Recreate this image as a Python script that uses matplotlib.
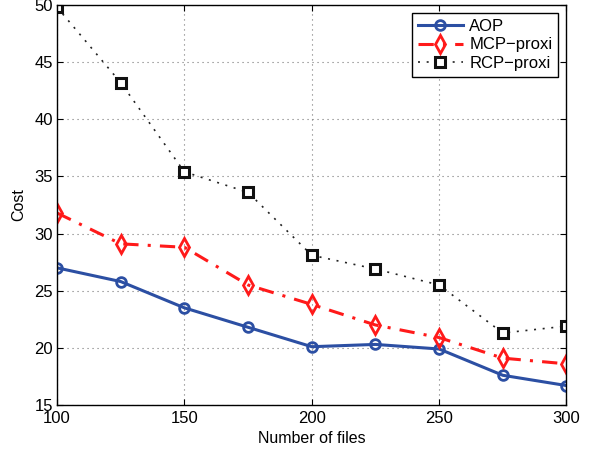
import numpy as np
import matplotlib
matplotlib.use('Agg')
import matplotlib.pyplot as plt

plt.rcParams['font.family'] = ['Liberation Sans', 'DejaVu Sans']

files = [100, 125, 150, 175, 200, 225, 250, 275, 300]
aop = [27.0, 25.8, 23.5, 21.8, 20.1, 20.3, 19.9, 17.6, 16.7]
mcp = [31.8, 29.1, 28.8, 25.5, 23.8, 22.0, 20.9, 19.1, 18.6]
rcp = [49.8, 43.2, 35.4, 33.6, 28.1, 26.9, 25.5, 21.3, 21.9]

fig = plt.figure(figsize=(5.91, 4.5), dpi=100)
ax = fig.add_axes([0.0965, 0.1, 0.862, 0.889])

ax.plot(files, aop, '-', color='#2c4fa3', lw=2.2, marker='o', ms=7,
        mfc='none', mec='#2c4fa3', mew=2, label='AOP')
ax.plot(files, mcp, '-.', color='#ff1a1a', lw=2.2, marker='d', ms=9,
        mfc='none', mec='#ff1a1a', mew=2, label='MCP\u2212proxi',
        dashes=(5, 3, 1, 3))
ax.plot(files, rcp, color='#222222', lw=1.2, marker='s', ms=6.5,
        mfc='white', mec='#111111', mew=2.2, label='RCP\u2212proxi',
        dashes=(1.2, 4))

ax.set_xlim(100, 300)
ax.set_ylim(15, 50)
ax.set_xticks([100, 150, 200, 250, 300])
ax.set_yticks([15, 20, 25, 30, 35, 40, 45, 50])
ax.grid(True, color='#777777', lw=0.8, dashes=(1, 3.5))
ax.tick_params(direction='in', top=True, right=True, labelsize=12, pad=3,
               length=4)
ax.tick_params(axis='x', pad=4)
for s in ax.spines.values():
    s.set_linewidth(1.0)

ax.set_xlabel('Number of files', fontsize=11.5, labelpad=4)
ax.set_ylabel('Cost', fontsize=11.5, labelpad=6)

leg = ax.legend(loc='upper right', fontsize=12, fancybox=False,
                edgecolor='black', framealpha=1, handlelength=2.7,
                borderaxespad=0.5, labelspacing=0.2, borderpad=0.35,
                handletextpad=0.4)
leg.get_frame().set_linewidth(1.0)

plt.savefig('out.png', dpi=100)
